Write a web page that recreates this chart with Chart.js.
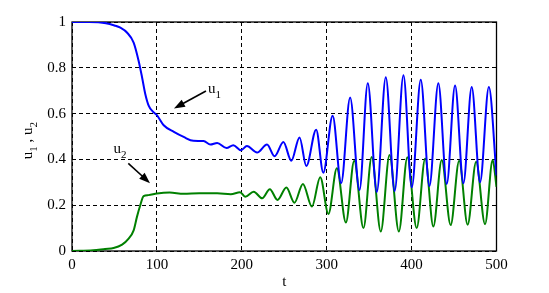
<!DOCTYPE html>
<html>
<head>
<meta charset="utf-8">
<script src="https://cdn.jsdelivr.net/npm/chart.js@4/dist/chart.umd.min.js"></script>
<style>
  html, body { margin: 0; padding: 0; background: #fff; }
  #wrap { width: 549px; height: 293px; }
</style>
</head>
<body>
<div id="wrap"><canvas id="chart"></canvas></div>
<script>
// u1 (blue), peaks / troughs mostly
const tU1 = [0, 20, 40, 50, 57, 65, 72.6, 78.5, 82.5, 86.3, 90.3, 95, 100, 108, 120, 131.5, 143, 155, 163, 171,
  182, 190, 199, 206, 218, 229.7, 238.6, 249, 258.3, 268, 276, 287.6, 296, 307, 317, 327.6, 338.6, 348.4,
  359, 369.6, 380, 390.4, 400.2, 410.8, 421, 431.5, 441.4, 451.2, 461, 470.8, 480.6, 491, 500];
const u1 = [1, 1, 0.995, 0.985, 0.975, 0.953, 0.91, 0.83, 0.759, 0.686, 0.635, 0.61, 0.593, 0.549, 0.52, 0.498, 0.481, 0.48, 0.465, 0.472,
  0.45, 0.462, 0.44, 0.458, 0.43, 0.465, 0.414, 0.476, 0.394, 0.496, 0.371, 0.53, 0.342, 0.591, 0.296, 0.67, 0.266, 0.733,
  0.258, 0.759, 0.262, 0.767, 0.278, 0.748, 0.284, 0.733, 0.293, 0.723, 0.296, 0.716, 0.3, 0.716, 0.33];

// u2 (green)
const tU2 = [0, 25, 39, 49, 59, 66.7, 72.6, 76.5, 80.4, 84.3, 90, 100, 115, 131.5, 150, 171, 187, 198, 204, 214,
  224, 233, 242, 252.5, 262, 272, 282.6, 292.4, 302, 312, 322.6, 332.4, 343.3, 353, 363.7, 374, 385, 395,
  406, 416, 425.6, 435.5, 446, 456, 466, 476, 486.5, 495.5, 500];
const u2 = [0, 0.003, 0.009, 0.013, 0.028, 0.054, 0.09, 0.149, 0.2, 0.24, 0.244, 0.251, 0.255, 0.25, 0.252, 0.252, 0.248, 0.257, 0.237, 0.259,
  0.23, 0.27, 0.223, 0.277, 0.211, 0.293, 0.194, 0.322, 0.162, 0.361, 0.124, 0.394, 0.1, 0.411, 0.085, 0.419, 0.085, 0.409,
  0.1, 0.404, 0.107, 0.397, 0.113, 0.394, 0.115, 0.39, 0.117, 0.397, 0.28];

const xTicks = [0, 100, 200, 300, 400, 500];
const yTicks = [0, 0.2, 0.4, 0.6, 0.8, 1];

const serif = '"Liberation Serif", "Times New Roman", serif';

function drawSub(ctx, x, y, main, sub) {
  ctx.font = '15px ' + serif;
  ctx.fillText(main, x, y);
  const w = ctx.measureText(main).width;
  ctx.font = '11px ' + serif;
  ctx.fillText(sub, x + w, y + 5);
  return w + ctx.measureText(sub).width;
}

function arrow(ctx, x0, y0, x1, y1) {
  const ang = Math.atan2(y1 - y0, x1 - x0);
  const len = 11, half = 4;
  ctx.beginPath();
  ctx.moveTo(x0, y0);
  ctx.lineTo(x1 - Math.cos(ang) * len * 0.8, y1 - Math.sin(ang) * len * 0.8);
  ctx.stroke();
  ctx.beginPath();
  ctx.moveTo(x1, y1);
  ctx.lineTo(x1 - Math.cos(ang) * len - Math.sin(ang) * half, y1 - Math.sin(ang) * len + Math.cos(ang) * half);
  ctx.lineTo(x1 - Math.cos(ang) * len + Math.sin(ang) * half, y1 - Math.sin(ang) * len - Math.cos(ang) * half);
  ctx.closePath();
  ctx.fill();
}

const decor = {
  id: 'decor',
  beforeDatasetsDraw(chart) {
    const { ctx, chartArea: a } = chart;
    ctx.save();
    ctx.strokeStyle = '#000';
    ctx.lineWidth = 1.3;
    ctx.strokeRect(a.left, a.top, a.right - a.left, a.bottom - a.top);
    ctx.restore();
  },
  afterDraw(chart) {
    const { ctx, scales: { x, y } } = chart;
    const px = (t) => x.getPixelForValue(t);
    const py = (v) => y.getPixelForValue(v);
    ctx.save();
    ctx.fillStyle = '#000';
    ctx.strokeStyle = '#000';
    ctx.lineWidth = 1.6;
    ctx.textBaseline = 'alphabetic';
    // u1 label + arrow
    arrow(ctx, px(157.8), py(0.699), px(120.1), py(0.622));
    drawSub(ctx, px(160.2), py(0.688), 'u', '1');
    // u2 label + arrow
    arrow(ctx, px(66.3), py(0.383), px(91.9), py(0.296));
    drawSub(ctx, px(48.9), py(0.428), 'u', '2');
    // y axis title: u1 , u2
    ctx.translate(32, 140);
    ctx.rotate(-Math.PI / 2);
    ctx.font = '15px ' + serif;
    const total = 2 * ctx.measureText('u').width + ctx.measureText(' , ').width + 2 * 6;
    let cx = -total / 2;
    cx += drawSub(ctx, cx, 0, 'u', '1');
    ctx.font = '15px ' + serif;
    ctx.fillText(' , ', cx, 0);
    cx += ctx.measureText(' , ').width;
    drawSub(ctx, cx, 0, 'u', '2');
    ctx.restore();
  }
};

const ctx = document.getElementById('chart').getContext('2d');
new Chart(ctx, {
  type: 'line',
  data: {
    datasets: [
      {
        label: 'u1',
        data: tU1.map((t, i) => ({ x: t, y: u1[i] })),
        borderColor: '#0000ff',
      },
      {
        label: 'u2',
        data: tU2.map((t, i) => ({ x: t, y: u2[i] })),
        borderColor: '#008000',
      },
    ],
  },
  options: {
    responsive: true,
    maintainAspectRatio: false,
    animation: false,
    layout: { padding: { top: 22, right: 52.5, left: 0, bottom: 0 } },
    plugins: { legend: { display: false }, tooltip: { enabled: false } },
    elements: {
      point: { radius: 0 },
      line: { borderWidth: 2, cubicInterpolationMode: 'monotone', fill: false },
    },
    scales: {
      x: {
        type: 'linear',
        min: 0,
        max: 500,
        afterBuildTicks: (s) => { s.ticks = xTicks.map((v) => ({ value: v })); },
        afterFit: (s) => { s.height = 42; },
        ticks: {
          color: '#000',
          font: { family: serif, size: 15 },
          padding: 5,
          maxRotation: 0,
        },
        grid: { color: '#000', lineWidth: 1, drawTicks: false },
        border: { display: false, dash: [4, 3] },
        title: {
          display: true,
          text: 't',
          color: '#000',
          font: { family: serif, size: 15 },
          padding: { top: 0, bottom: 2 },
        },
      },
      y: {
        min: 0,
        max: 1,
        afterBuildTicks: (s) => { s.ticks = yTicks.map((v) => ({ value: v })); },
        afterFit: (s) => { s.width = 72; },
        ticks: {
          color: '#000',
          font: { family: serif, size: 15 },
          padding: 6,
          callback: (v) => String(+v.toFixed(1)),
        },
        grid: { color: '#000', lineWidth: 1, drawTicks: false },
        border: { display: false, dash: [4, 3] },
      },
    },
  },
  plugins: [decor],
});
</script>
</body>
</html>
